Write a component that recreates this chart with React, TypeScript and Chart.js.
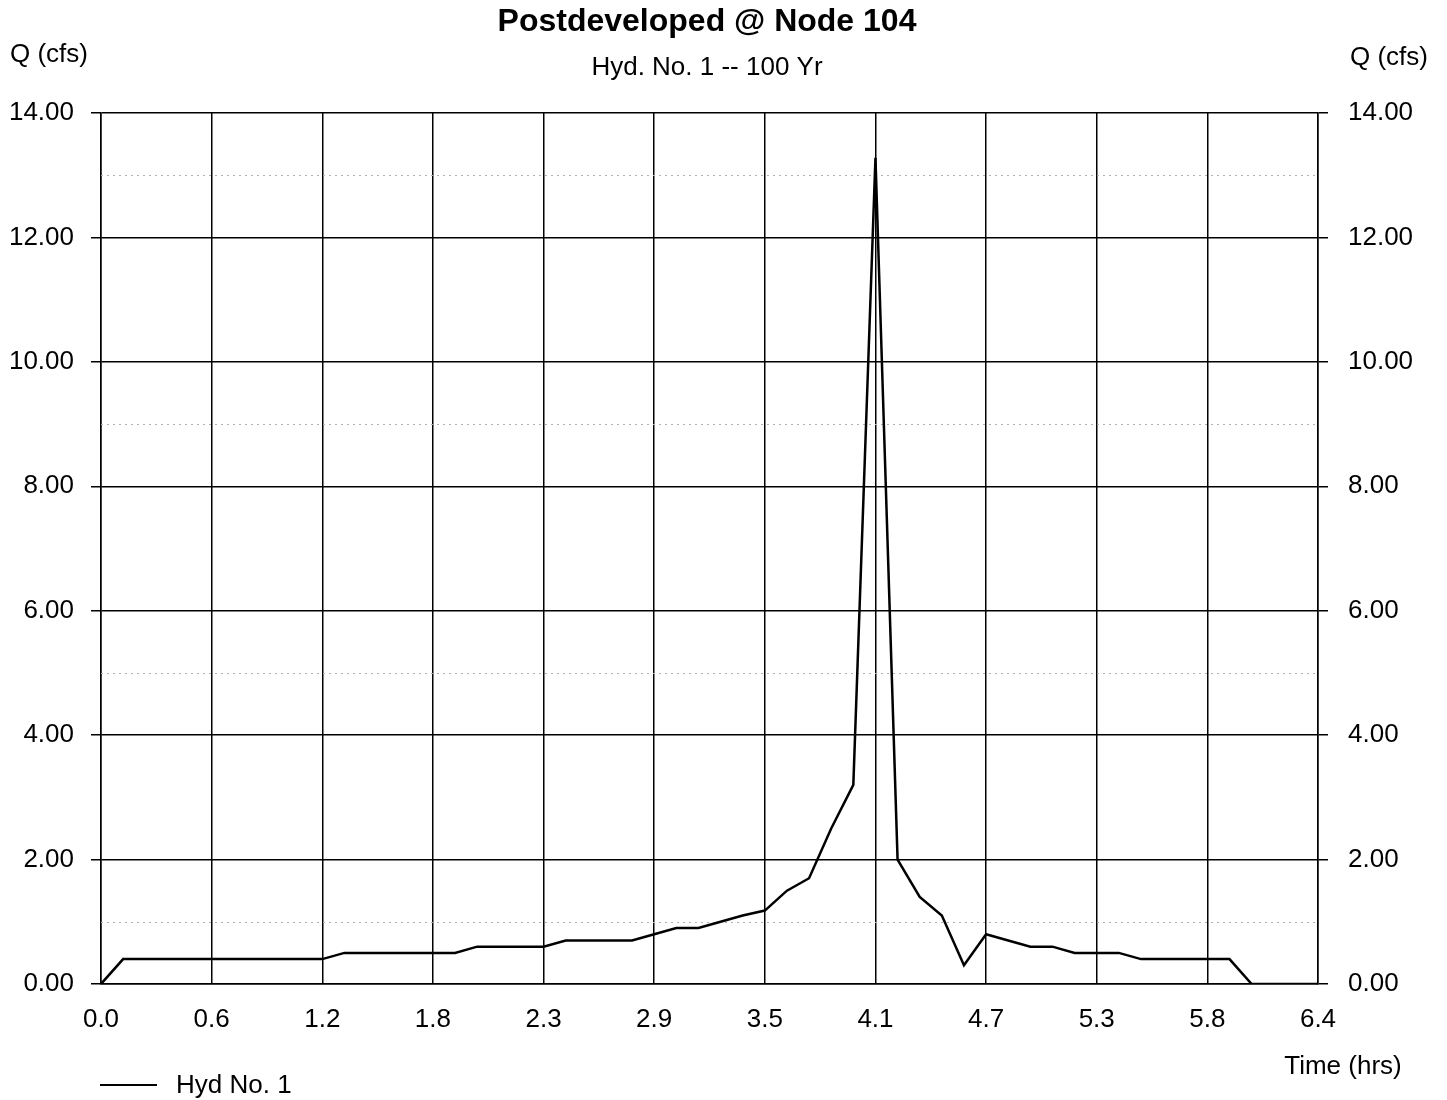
import { useEffect, useRef } from 'react';
import { Chart, registerables } from 'chart.js';

Chart.register(...registerables);

// Time in minutes (7-minute steps), shown on the axis in hours
const timeMin = [
  0, 7, 14, 21, 28, 35, 42, 49, 56, 63, 70, 77, 84, 91, 98, 105, 112, 119, 126, 133,
  140, 147, 154, 161, 168, 175, 182, 189, 196, 203, 210, 217, 224, 231, 238, 245, 252, 259, 266, 273,
  280, 287, 294, 301, 308, 315, 322, 329, 336, 343, 350, 357, 364, 371, 378, 385,
];

// Discharge Q (cfs), Hyd No. 1
const flowCfs = [
  0.0, 0.4, 0.4, 0.4, 0.4, 0.4, 0.4, 0.4, 0.4, 0.4, 0.4, 0.5, 0.5, 0.5, 0.5, 0.5, 0.5, 0.6, 0.6, 0.6,
  0.6, 0.7, 0.7, 0.7, 0.7, 0.8, 0.9, 0.9, 1.0, 1.1, 1.18, 1.5, 1.7, 2.5, 3.2, 13.28, 2.0, 1.4, 1.1, 0.3,
  0.8, 0.7, 0.6, 0.6, 0.5, 0.5, 0.5, 0.4, 0.4, 0.4, 0.4, 0.4, 0.0, 0.0, 0.0, 0.0,
];

const xTickStepMin = 35;
const xMaxMin = 385;
const yMax = 14;
const yStep = 2;
const minorDottedQ = [1, 5, 9, 13];

const chartTitle = 'Postdeveloped @ Node 104';
const chartSubtitle = 'Hyd. No. 1 -- 100 Yr';
const yAxisTitle = 'Q (cfs)';
const xAxisTitle = 'Time (hrs)';
const seriesName = 'Hyd No. 1';

const FONT = '"Liberation Sans", Arial, Helvetica, sans-serif';

export default function App() {
  const ref = useRef<HTMLCanvasElement>(null);

  useEffect(() => {
    const overlay = {
      id: 'overlay',
      beforeDatasetsDraw(chart: any) {
        const { ctx, chartArea, scales } = chart;
        ctx.save();
        ctx.strokeStyle = '#b0b0b0';
        ctx.lineWidth = 1;
        ctx.setLineDash([2, 4]);
        for (const v of minorDottedQ) {
          const y = Math.round(scales.y.getPixelForValue(v)) + 0.5;
          ctx.beginPath();
          ctx.moveTo(chartArea.left, y);
          ctx.lineTo(chartArea.right, y);
          ctx.stroke();
        }
        ctx.restore();
      },
      afterDraw(chart: any) {
        const { ctx } = chart;
        ctx.save();
        ctx.fillStyle = '#000';
        ctx.textBaseline = 'middle';
        ctx.textAlign = 'center';
        ctx.font = `bold 32px ${FONT}`;
        ctx.fillText(chartTitle, 707, 22);
        ctx.font = `26px ${FONT}`;
        ctx.fillText(chartSubtitle, 707, 68);
        ctx.textAlign = 'left';
        ctx.fillText(yAxisTitle, 10, 55);
        ctx.fillText(yAxisTitle, 1350, 58);
        ctx.textAlign = 'center';
        ctx.fillText(xAxisTitle, 1343, 1067);
        // legend
        ctx.strokeStyle = '#000';
        ctx.lineWidth = 2;
        ctx.beginPath();
        ctx.moveTo(100, 1085);
        ctx.lineTo(157, 1085);
        ctx.stroke();
        ctx.textAlign = 'left';
        ctx.fillText(seriesName, 176, 1086);
        ctx.restore();
      },
    };

    const tickFont = { family: FONT, size: 26 };

    const chart = new Chart(ref.current!, {
      type: 'line',
      data: {
        datasets: [
          {
            label: seriesName,
            data: timeMin.map((t, i) => ({ x: t, y: flowCfs[i] })),
            borderColor: '#000',
            borderWidth: 2.5,
            pointRadius: 0,
            tension: 0,
            fill: false,
          },
        ],
      },
      options: {
        responsive: false,
        animation: false,
        devicePixelRatio: 1,
        layout: { padding: { top: 113, left: 8, right: 0, bottom: 0 } },
        plugins: {
          legend: { display: false },
          title: { display: false },
          tooltip: { enabled: false },
        },
        scales: {
          x: {
            type: 'linear',
            min: 0,
            max: xMaxMin,
            afterFit: (s: any) => {
              s.height = 116;
            },
            ticks: {
              stepSize: xTickStepMin,
              autoSkip: false,
              maxRotation: 0,
              padding: 20,
              color: '#000',
              font: tickFont,
              callback: (v: any) => (Number(v) / 60).toFixed(1),
            },
            grid: { color: '#000', lineWidth: 1.5, drawTicks: false },
            border: { display: true, color: '#000', width: 1.5 },
          },
          y: {
            type: 'linear',
            position: 'left',
            min: 0,
            max: yMax,
            afterFit: (s: any) => {
              s.width = 93;
            },
            ticks: {
              stepSize: yStep,
              padding: 17,
              color: '#000',
              font: tickFont,
              callback: (v: any) => Number(v).toFixed(2),
            },
            grid: { color: '#000', lineWidth: 1.5, drawTicks: true, tickLength: 10 },
            border: { display: true, color: '#000', width: 1.5 },
          },
          y2: {
            type: 'linear',
            position: 'right',
            min: 0,
            max: yMax,
            afterFit: (s: any) => {
              s.width = 129;
            },
            ticks: {
              stepSize: yStep,
              padding: 20,
              color: '#000',
              font: tickFont,
              callback: (v: any) => Number(v).toFixed(2),
            },
            grid: { color: '#000', lineWidth: 1.5, drawOnChartArea: false, drawTicks: true, tickLength: 10 },
            border: { display: true, color: '#000', width: 1.5 },
          },
        },
      },
      plugins: [overlay],
    } as any);

    return () => chart.destroy();
  }, []);

  return (
    <div style={{ position: 'absolute', left: 0, top: 0, width: 1447, height: 1100, background: '#fff' }}>
      <canvas ref={ref} width={1447} height={1100} style={{ display: 'block' }} />
    </div>
  );
}
